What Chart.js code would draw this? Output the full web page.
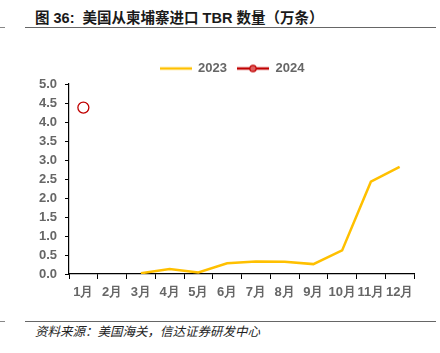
<!DOCTYPE html>
<html>
<head>
<meta charset="utf-8">
<script src="https://cdn.jsdelivr.net/npm/chart.js@4.4.1/dist/chart.umd.min.js"></script>
<style>
  body { margin: 0; width: 440px; height: 353px; background: #fff; position: relative; overflow: hidden; font-family: "Liberation Sans", "Noto Sans CJK SC", sans-serif; }
  #title { position: absolute; left: 35px; top: 6px; font-size: 14.5px; font-weight: bold; color: #1a1a1a; font-family: "Liberation Sans", "Noto Sans CJK SC", sans-serif; white-space: nowrap; }
  .rule { position: absolute; left: 25px; width: 411px; height: 0; border-top: 1px solid #666; }
  .stub { position: absolute; left: 0; width: 5px; height: 0; border-top: 1px solid #888; }
  #src { position: absolute; left: 35px; top: 321px; font-size: 12.5px; font-style: italic; color: #222; font-family: "Noto Sans CJK SC", sans-serif; white-space: nowrap; }
  #wrap { position: absolute; left: 0; top: 52px; width: 440px; height: 252px; }
</style>
</head>
<body>
<div id="title">图 36:&nbsp; 美国从柬埔寨进口 TBR 数量（万条）</div>
<div class="rule" style="top:27px"></div>
<div class="stub" style="top:27px"></div>
<div id="wrap"><canvas id="tbrChart"></canvas></div>
<div class="rule" style="top:321px"></div>
<div class="stub" style="top:321px"></div>
<div id="src">资料来源：美国海关，信达证券研发中心</div>
<script>
const months = ['1月', '2月', '3月', '4月', '5月', '6月', '7月', '8月', '9月', '10月', '11月', '12月'];
const values2023 = [null, null, 0.02, 0.13, 0.04, 0.28, 0.33, 0.32, 0.26, 0.62, 2.43, 2.82];
const values2024 = [4.38, null, null, null, null, null, null, null, null, null, null, null];
const yTicks = [0, 0.5, 1, 1.5, 2, 2.5, 3, 3.5, 4, 4.5, 5];

const color2023 = '#FFC000';
const color2024 = '#C00000';
const axisFont = { family: 'Liberation Sans', size: 13, weight: 'bold' };

// petits symboles de légende
function legendIcon(col, withDot) {
    const c = document.createElement('canvas');
    c.width = 32; c.height = 10;
    const g = c.getContext('2d');
    g.strokeStyle = col;
    g.lineWidth = 2.5;
    g.beginPath(); g.moveTo(0, 5); g.lineTo(32, 5); g.stroke();
    if (withDot) {
        g.lineWidth = 1.2;
        g.fillStyle = '#e06060';
        g.beginPath(); g.arc(16, 5, 3.2, 0, Math.PI * 2); g.fill(); g.stroke();
    }
    return c;
}

// hauteur fixe de la légende et décalage vers la droite
const fixLegend = {
    id: 'fixLegend',
    afterInit(chart) {
        const lg = chart.legend;
        const fit = lg.fit.bind(lg);
        lg.fit = function () { fit(); this.height = 32; };
    },
    afterLayout(chart) {
        chart.legend.left += 50;
    }
};

const tbrChart = new Chart(document.getElementById('tbrChart').getContext('2d'), {
    type: 'line',
    data: {
        labels: months,
        datasets: [{
            label: '2023',
            data: values2023,
            borderColor: color2023,
            backgroundColor: color2023,
            borderWidth: 2.5,
            pointRadius: 0,
            tension: 0
        }, {
            label: '2024',
            data: values2024,
            borderColor: color2024,
            backgroundColor: '#fff',
            borderWidth: 1.5,
            pointRadius: 5.5,
            pointBorderWidth: 1.3,
            showLine: false
        }]
    },
    plugins: [fixLegend],
    options: {
        responsive: true,
        maintainAspectRatio: false,
        animation: false,
        layout: { padding: { left: 0, right: 26, top: 0, bottom: 0 } },
        plugins: {
            legend: {
                position: 'top',
                labels: {
                    usePointStyle: true,
                    pointStyleWidth: 32,
                    color: '#666',
                    font: axisFont,
                    padding: 10,
                    generateLabels: chart => chart.data.datasets.map((ds, i) => ({
                        text: ds.label,
                        pointStyle: legendIcon(ds.borderColor, i === 1),
                        fontColor: '#666',
                        datasetIndex: i
                    }))
                }
            },
            tooltip: { enabled: false }
        },
        scales: {
            x: {
                offset: true,
                afterFit: s => { s.height = 30; },
                grid: { offset: true, drawOnChartArea: false, tickLength: 5, color: '#000' },
                border: { color: '#000', width: 1.2 },
                ticks: { color: '#666', font: axisFont, maxRotation: 0, autoSkip: false, padding: 6 }
            },
            y: {
                min: 0,
                max: 5,
                afterFit: s => { s.width = 69; },
                afterBuildTicks: axis => { axis.ticks = yTicks.map(v => ({ value: v })); },
                grid: { drawOnChartArea: false, tickLength: 4, color: '#000' },
                border: { color: '#000', width: 1.2 },
                ticks: { color: '#666', font: axisFont, callback: v => v.toFixed(1), padding: 8 }
            }
        }
    }
});
</script>
</body>
</html>
